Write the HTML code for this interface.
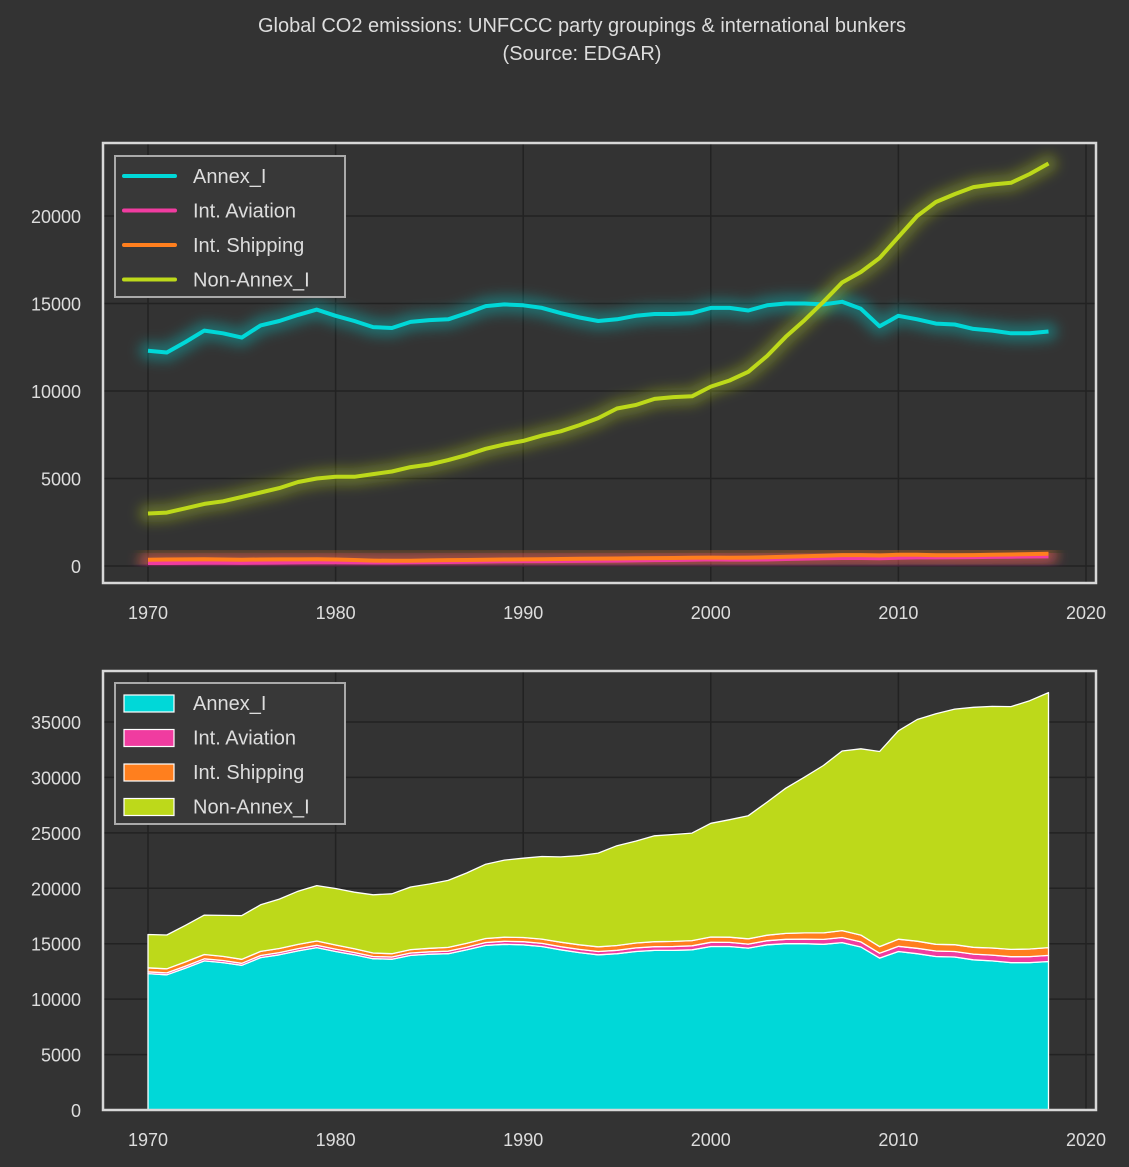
<!DOCTYPE html>
<html><head><meta charset="utf-8">
<style>
html,body{margin:0;padding:0;background:#333333;}
svg{display:block;font-family:"Liberation Sans",sans-serif;}
</style></head>
<body>
<svg id="chart" width="1129" height="1167" viewBox="0 0 1129 1167">
<defs>
<filter id="glow" x="-10%" y="-50%" width="120%" height="200%"><feGaussianBlur stdDeviation="6"/></filter>
</defs>
<rect width="1129" height="1167" fill="#333333"/>
<text x="582" y="32" text-anchor="middle" fill="#dddddd" font-size="20">Global CO2 emissions: UNFCCC party groupings &amp; international bunkers</text>
<text x="582" y="60" text-anchor="middle" fill="#dddddd" font-size="20">(Source: EDGAR)</text>
<g id="top"></g>
<g id="bottom"></g>
</svg>
<script>
const years = [];
for (let y = 1970; y <= 2018; y++) years.push(y);
const annexI = [12300,12200,12800,13450,13300,13050,13750,14000,14350,14650,14300,14000,13650,13600,13950,14050,14100,14450,14850,14950,14900,14750,14450,14200,14000,14100,14300,14400,14400,14450,14750,14750,14600,14900,15000,15000,14950,15100,14700,13700,14300,14100,13850,13800,13550,13450,13300,13300,13400];
const aviation = [170,170,180,190,185,180,190,195,205,210,210,205,200,200,210,220,230,245,260,270,280,280,285,290,300,310,320,335,345,360,380,365,365,370,400,420,440,460,460,440,470,490,490,500,510,520,530,540,550];
const shipping = [360,370,380,390,370,360,370,375,380,385,370,340,310,300,305,320,335,345,360,370,380,390,400,410,420,430,440,450,460,470,480,470,480,500,530,560,590,620,620,600,640,640,610,610,620,640,660,680,700];
const nonAnnexI = [3000,3050,3300,3550,3700,3950,4200,4450,4800,5000,5100,5100,5250,5400,5650,5800,6050,6350,6700,6950,7150,7450,7700,8050,8450,9000,9200,9550,9650,9700,10250,10600,11100,12000,13100,14050,15100,16200,16800,17600,18800,20000,20800,21250,21650,21800,21900,22400,23000];
const seriesNames = ["Annex_I","Int. Aviation","Int. Shipping","Non-Annex_I"];
const seriesData = [annexI, aviation, shipping, nonAnnexI];
const colors = ["#00d8d8","#f03ca0","#ff7f1e","#bdd91a"];
const xTicks = [1970,1980,1990,2000,2010,2020];
const yTicksTop = [0,5000,10000,15000,20000];
const yTicksBottom = [0,5000,10000,15000,20000,25000,30000,35000];

const NS = "http://www.w3.org/2000/svg";
function mk(tag, attrs, parent){const e=document.createElementNS(NS,tag);for(const k in attrs)e.setAttribute(k,attrs[k]);parent.appendChild(e);return e;}
const L=103,R=1096;
function xs(y){return 148+(y-1970)*(1086-148)/50;}

function axesFrame(g, top, bottom, ys, yTicks, pfx){
  mk("rect",{x:L,y:top,width:R-L,height:bottom-top,fill:"#333333"},g);
  xTicks.forEach(t=>{
    const l=mk("line",{x1:xs(t),x2:xs(t),y1:top,y2:bottom,stroke:"#222222","stroke-width":1.5},g);
    
    
    const tx=mk("text",{x:xs(t),y:bottom+36,"text-anchor":"middle",fill:"#dddddd","font-size":18},g);
    tx.textContent=t;
    
    
  });
  yTicks.forEach(t=>{
    const l=mk("line",{x1:L,x2:R,y1:ys(t),y2:ys(t),stroke:"#222222","stroke-width":1.5},g);
    
    
    const tx=mk("text",{x:81,y:ys(t)+7,"text-anchor":"end",fill:"#dddddd","font-size":18},g);
    tx.textContent=t;
    
    
  });
}
function frame(g, top, bottom, pfx){
  const r=mk("rect",{x:L,y:top,width:R-L,height:bottom-top,fill:"none",stroke:"#d8d8d8","stroke-width":2.5},g);
  
  
}
function legend(g, top, pfx, patch){
  const lg=mk("g",{},g);
  
  
  mk("rect",{x:115,y:top,width:230,height:141,fill:"#383838",stroke:"#aaaaaa","stroke-width":2},lg);
  seriesNames.forEach((n,i)=>{
    const cy=top+20+i*34.5;
    const e=mk("g",{},lg);
    
    
    if(patch) mk("rect",{x:124,y:cy-8,width:50,height:17,fill:colors[i],stroke:"#ffffff","stroke-width":1.2},e);
    else mk("line",{x1:124,x2:175,y1:cy,y2:cy,stroke:colors[i],"stroke-width":4,"stroke-linecap":"round"},e);
    const t=mk("text",{x:193,y:cy+7,fill:"#dddddd","font-size":20},e);
    t.textContent=n;
  });
}

// Top line chart
const gt=document.getElementById("top");
const tTop=143,tBot=583;
function ysT(v){return 566-v*350/20000;}
axesFrame(gt,tTop,tBot,ysT,yTicksTop,'top');
seriesData.forEach((arr,i)=>{
  const pts=arr.map((v,j)=>xs(years[j]).toFixed(1)+","+ysT(v).toFixed(1)).join(" ");
  const gl=mk("polyline",{points:pts,fill:"none",stroke:colors[i],"stroke-width":18,"stroke-opacity":0.35,"stroke-linecap":"round","stroke-linejoin":"round",filter:"url(#glow)"},gt);
  
  
});
seriesData.forEach((arr,i)=>{
  const pts=arr.map((v,j)=>xs(years[j]).toFixed(1)+","+ysT(v).toFixed(1)).join(" ");
  const ln=mk("polyline",{points:pts,fill:"none",stroke:colors[i],"stroke-width":4,"stroke-linejoin":"round"},gt);
  
  
});
frame(gt,tTop,tBot,'top');
legend(gt,156,'top',false);

// Bottom stacked area
const gb=document.getElementById("bottom");
const bTop=671,bBot=1110;
function ysB(v){return 1110-v*388/35000;}
axesFrame(gb,bTop,bBot,ysB,yTicksBottom,'bottom');
let base=years.map(()=>0);
seriesData.forEach((arr,i)=>{
  const topv=arr.map((v,j)=>base[j]+v);
  const up=topv.map((v,j)=>xs(years[j]).toFixed(1)+","+ysB(v).toFixed(1));
  const dn=base.map((v,j)=>xs(years[j]).toFixed(1)+","+ysB(v).toFixed(1)).reverse();
  const p=mk("polygon",{points:up.concat(dn).join(" "),fill:colors[i],stroke:"#ffffff","stroke-width":1.3,"stroke-linejoin":"round"},gb);
  
  
  base=topv;
});
frame(gb,bTop,bBot,'bottom');
legend(gb,683,'bottom',true);
</script>
</body></html>
